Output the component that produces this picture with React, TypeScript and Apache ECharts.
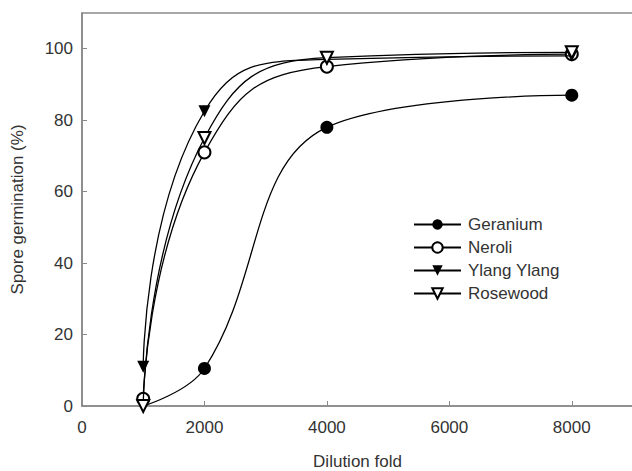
import React, { useEffect, useRef } from "react";
import * as echarts from "echarts";

const dilution = [1000, 2000, 4000, 8000];
const geranium = [0, 10.5, 78, 87];
const neroli = [2, 71, 95, 98.5];
const ylangYlang = [11, 82.5, 97, 98];
const rosewood = [0, 75, 97.5, 99];
const xTicks = [0, 2000, 4000, 6000, 8000];
const yTicks = [0, 20, 40, 60, 80, 100];

const FONT = "Liberation Sans, Arial, sans-serif";
const TEXT = "#333";

export default function App() {
  const ref = useRef<HTMLDivElement>(null);
  useEffect(() => {
    if (!ref.current) return;
    const chart = echarts.init(ref.current, undefined, { renderer: "svg" });
    const mk = (vals: number[], hideFirst = false) =>
      vals.map((v, i) =>
        hideFirst && i === 0
          ? { value: [dilution[i], v], symbol: "none" }
          : { value: [dilution[i], v] }
      );
    const line = { color: "#000", width: 1.3 };
    chart.setOption({
      animation: false,
      backgroundColor: "#fff",
      textStyle: { fontFamily: FONT },
      grid: {
        left: 82,
        right: -1,
        top: 13,
        bottom: 65,
        containLabel: false,
        outerBoundsMode: "none",
        show: true,
        borderColor: "#8a8a8a",
        borderWidth: 1.6,
      },
      legend: {
        left: 413,
        top: 216,
        padding: 0,
        orient: "vertical",
        itemWidth: 47,
        itemHeight: 13,
        itemGap: 6,
        textStyle: { fontSize: 17, color: TEXT, fontFamily: FONT, padding: [0, 0, 0, 2] },
        data: ["Geranium", "Neroli", "Ylang Ylang", "Rosewood"],
      },
      xAxis: {
        type: "value",
        min: 0,
        max: 9000,
        interval: 2000,
        name: "Dilution fold",
        nameLocation: "middle",
        nameGap: 47,
        nameTextStyle: { fontSize: 17, color: TEXT, fontFamily: FONT },
        axisLine: { lineStyle: { color: "#8a8a8a", width: 1.6 } },
        axisTick: { inside: true, length: 5, lineStyle: { color: "#8a8a8a" } },
        axisLabel: {
          fontSize: 17,
          color: TEXT,
          margin: 13,
          showMaxLabel: false,
          formatter: (v: number) => (xTicks.includes(v) ? String(v) : ""),
        },
        splitLine: { show: false },
      },
      yAxis: {
        type: "value",
        min: 0,
        max: 110,
        interval: 20,
        name: "Spore germination (%)",
        nameLocation: "middle",
        nameGap: 56,
        nameTextStyle: { fontSize: 17, color: TEXT, fontFamily: FONT },
        axisLine: { lineStyle: { color: "#8a8a8a", width: 1.6 } },
        axisTick: { inside: true, length: 5, lineStyle: { color: "#8a8a8a" } },
        axisLabel: {
          fontSize: 17,
          color: TEXT,
          margin: 9,
          showMaxLabel: false,
          formatter: (v: number) => (yTicks.includes(v) ? String(v) : ""),
        },
        splitLine: { show: false },
      },
      series: [
        {
          name: "Geranium",
          type: "line",
          smooth: 0.4,
          data: mk(geranium, true),
          symbol: "circle",
          symbolSize: 13,
          itemStyle: { color: "#000" },
          lineStyle: line,
          z: 2,
        },
        {
          name: "Neroli",
          type: "line",
          smooth: 0.5,
          data: mk(neroli),
          symbol: "emptyCircle",
          symbolSize: 12,
          itemStyle: { color: "#000", borderWidth: 1.5 },
          lineStyle: line,
          z: 3,
        },
        {
          name: "Ylang Ylang",
          type: "line",
          smooth: 0.5,
          data: mk(ylangYlang),
          symbol: "triangle",
          symbolRotate: 180,
          symbolSize: 12,
          itemStyle: { color: "#000" },
          lineStyle: line,
          z: 4,
        },
        {
          name: "Rosewood",
          type: "line",
          smooth: 0.5,
          data: mk(rosewood),
          symbol: "emptyTriangle",
          symbolRotate: 180,
          symbolSize: 12,
          itemStyle: { color: "#000", borderWidth: 1.5 },
          lineStyle: line,
          z: 5,
        },
      ],
    });
    return () => chart.dispose();
  }, []);
  return <div ref={ref} style={{ width: 632, height: 471, position: "absolute", left: 0, top: 0 }} />;
}
